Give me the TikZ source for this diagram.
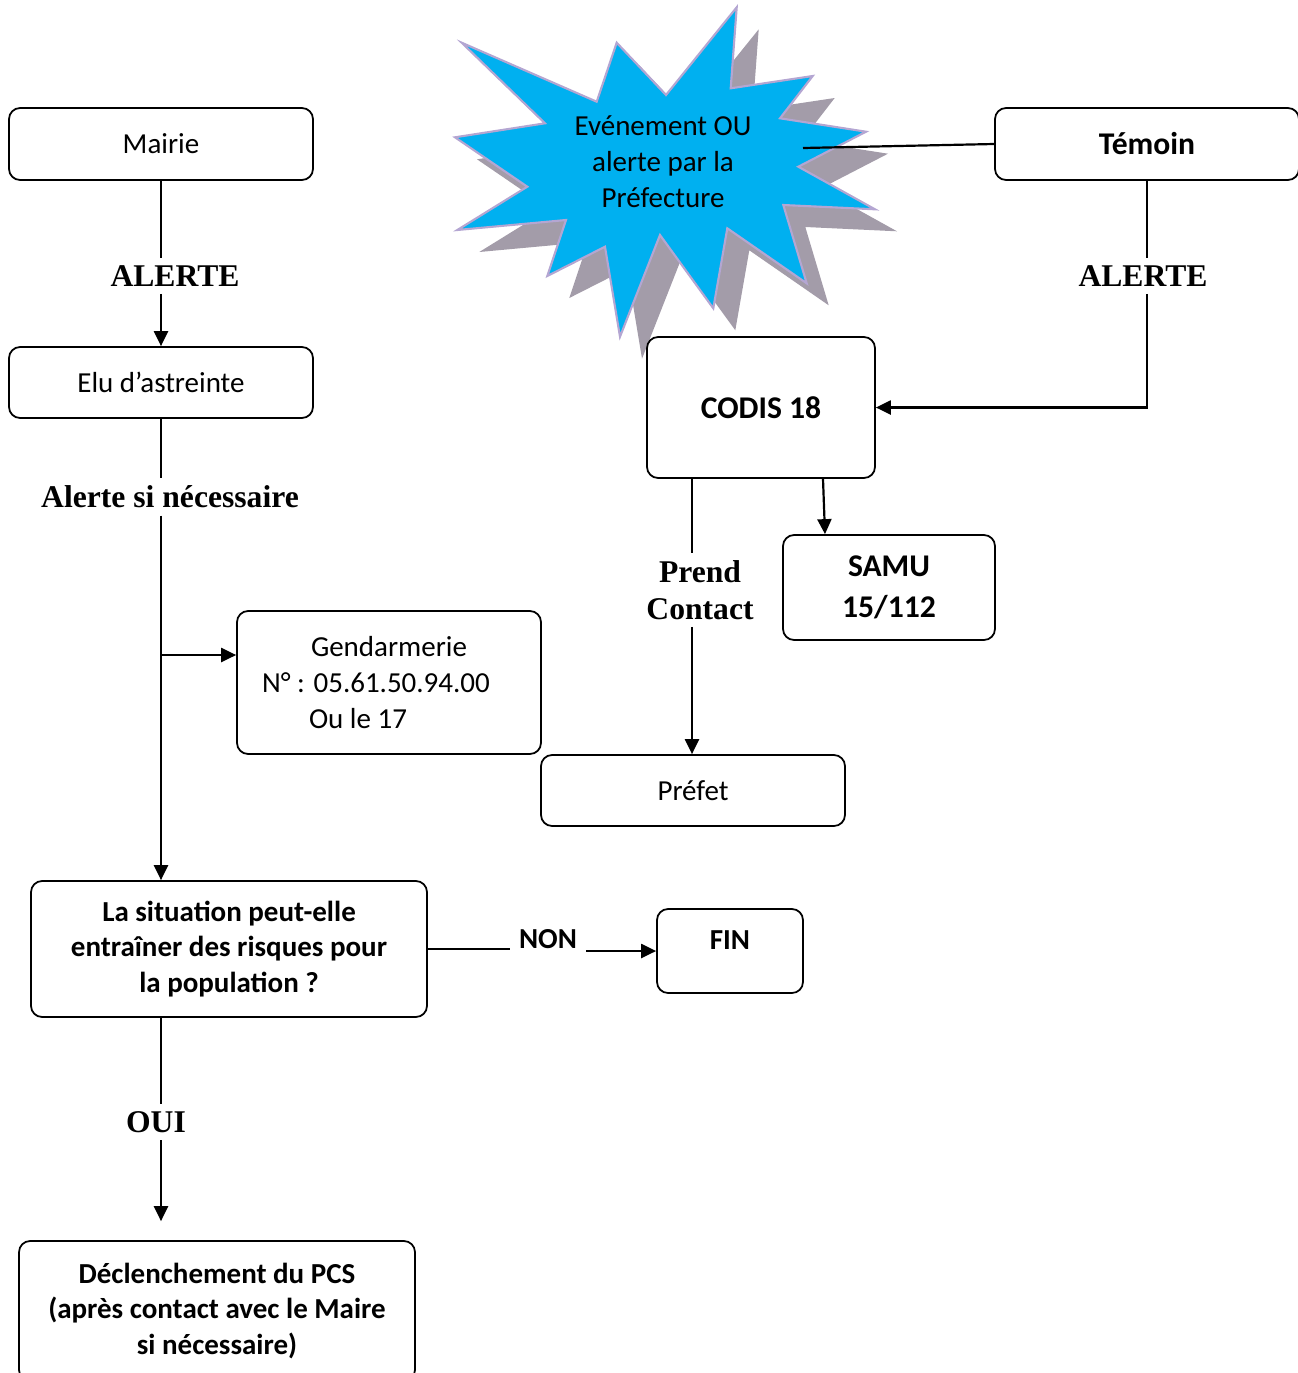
\documentclass[tikz,border=0pt]{standalone}
\usepackage{fontspec}
\setmainfont{Carlito}
\newfontfamily\timesfont{Liberation Serif}
\usetikzlibrary{arrows.meta,calc}
\definecolor{burstblue}{HTML}{00B0F0}
\definecolor{burstshadow}{HTML}{A39CA9}
\definecolor{burstline}{HTML}{B4A6D2}
\newcommand{\burstpath}{(461.7,42.7) -- (596.7,101.7) -- (616.7,42.7) -- (666,95)
  -- (736.7,7.3) -- (730.7,88.3) -- (812.7,76) -- (780,118.3) -- (866,131.7)
  -- (798.3,166.7) -- (875,209.3) -- (783.3,205) -- (806.7,283.3) -- (727.3,228.3)
  -- (713.3,308.3) -- (660,235) -- (620,336.7) -- (605,246.7) -- (547.3,276)
  -- (566,220) -- (457.3,230) -- (527.3,186.7) -- (455,137.3) -- (545,123.3) -- cycle}

\begin{document}
\begin{tikzpicture}[x=0.02cm, y=-0.02cm,
  font=\fontsize{16.5}{20.4}\selectfont,
  box/.style={draw, line width=1pt, rounded corners=0.22cm, align=center,
              inner sep=0pt},
  big/.style={font=\fontsize{18}{21.6}\selectfont\bfseries},
  heavy/.style={font=\fontsize{16.5}{20.4}\selectfont\bfseries},
  lbl/.style={font=\fontsize{18}{21}\selectfont\timesfont\bfseries,
              align=center, inner sep=4pt},
  link/.style={line width=1.25pt},
  arr/.style={link, -{Triangle[length=0.3cm, width=0.28cm]}}
]
  \clip (0,0) rectangle (1298,1373);

  % starburst
  \fill[burstshadow, shift={(22,22)}] \burstpath;
  \filldraw[fill=burstblue, draw=burstline, line width=1.2pt] \burstpath;
  \node[align=center] (event) at (663,162) {Evénement OU\\alerte par la\\Préfecture};
  \coordinate (burst) at (803,148);

  % boxes
  \node[box, minimum width=6.08cm, minimum height=1.44cm] (mairie) at (161,144) {Mairie};
  \node[box, minimum width=6.08cm, minimum height=1.42cm] (elu) at (161,382.5) {Elu d’astreinte};
  \node[box, big, minimum width=6.08cm, minimum height=1.44cm] (temoin) at (1147,144) {Témoin};
  \node[box, big, minimum width=4.56cm, minimum height=2.82cm] (codis) at (761,407.5) {CODIS 18};
  \node[box, big, minimum width=4.24cm, minimum height=2.1cm] (samu) at (889,587.5) {SAMU\\[1.5pt]15/112};
  \node[box, align=flush left, text width=5.08cm, minimum width=6.08cm, minimum height=2.86cm] (gend) at (389,682.5)
       {\hspace*{0.98cm}Gendarmerie\\N° : 05.61.50.94.00\\\hspace*{0.94cm}Ou le 17};
  \node[box, minimum width=6.08cm, minimum height=1.42cm] (prefet) at (693,790.5) {Préfet};
  \node[box, heavy, minimum width=7.92cm, minimum height=2.72cm] (situation) at (229,949)
       {La situation peut-elle\\entraîner des risques pour\\la population ?};
  \node[box, heavy, minimum width=2.92cm, minimum height=1.68cm, text depth=0.45cm] (fin) at (730,951) {FIN};
  \node[box, heavy, minimum width=7.92cm, minimum height=2.8cm] (decl) at (217,1311)
       {Déclenchement du PCS\\(après contact avec le Maire\\si nécessaire)};

  % labels
  \node[lbl] (alerte1) at (175,276) {ALERTE};
  \node[lbl] (alerte2) at (170,497) {Alerte si nécessaire};
  \node[lbl] (alerte3) at (1143,276) {ALERTE};
  \node[lbl] (contact) at (700,590) {Prend\\Contact};
  \node[lbl] (oui) at (156,1122) {OUI};
  \node[heavy, inner sep=5pt] (non) at (548,939) {NON};

  % connectors
  \draw[link] (mairie.south) -- (mairie.south |- alerte1.north);
  \draw[arr] (mairie.south |- alerte1.south) -- (elu.north);
  \draw[link] (elu.south) -- (elu.south |- alerte2.north);
  \draw[arr] (elu.south |- alerte2.south) -- (elu.south |- situation.north);
  \coordinate (split) at (161,655);
  \draw[arr] (split) -- (split -| gend.west);

  \draw[link] (burst) -- (temoin.west);
  \draw[link] (temoin.south) -- (temoin.south |- alerte3.north);
  \draw[arr] (temoin.south |- alerte3.south) |- (codis.east);

  \coordinate (c1) at ($(codis.south)+(-69,0)$);
  \draw[link] (c1) -- (c1 |- contact.north);
  \draw[arr] (c1 |- contact.south) -- (c1 |- prefet.north);
  \draw[arr] ($(codis.south)+(62,0)$) -- ($(samu.north)+(-64,0)$);

  \draw[link] (situation.east) -- (situation.east -| non.west);
  \draw[arr] (non.east |- fin.west) -- (fin.west);
  \draw[link] (elu.south |- situation.south) -- (elu.south |- oui.north);
  \draw[arr, shorten >=0.38cm] (elu.south |- oui.south) -- (elu.south |- decl.north);
\end{tikzpicture}
\end{document}
